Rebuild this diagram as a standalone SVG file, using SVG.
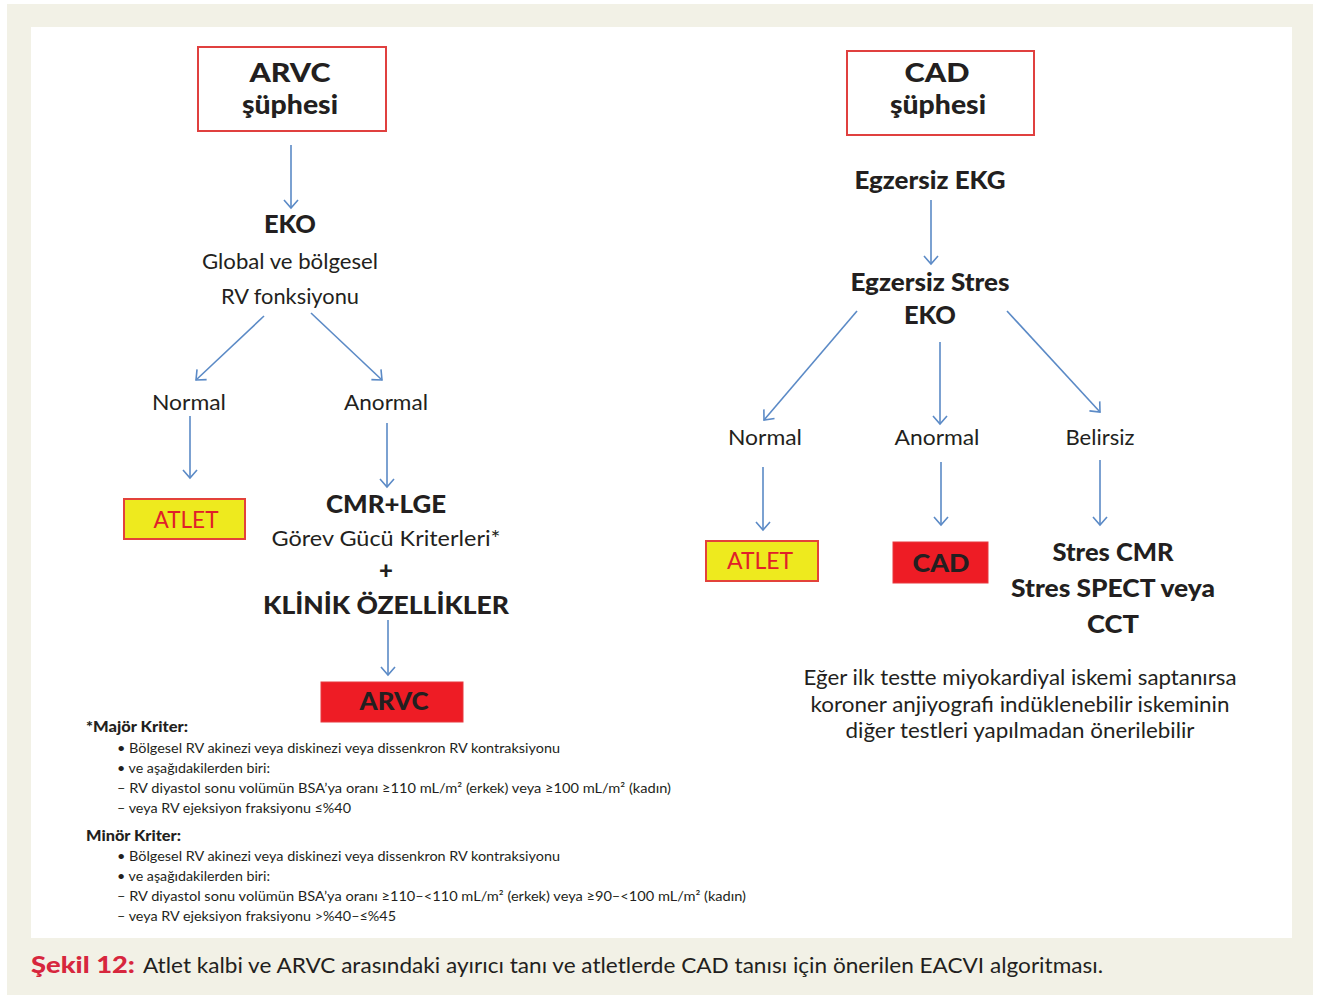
<svg xmlns="http://www.w3.org/2000/svg" width="1320" height="997" viewBox="0 0 1320 997">
<defs>
<marker id="ah" markerUnits="userSpaceOnUse" viewBox="-10 -8 12 16" refX="0" refY="0" markerWidth="12" markerHeight="16" orient="auto">
<path d="M-8,-7 L0,0 L-8,7" fill="none" stroke="#5b8ac6" stroke-width="1.6"/>
</marker>
<style>
text{font-family:Lato,"Open Sans","Liberation Sans",sans-serif;fill:#231f20}
.c{text-anchor:middle}
.h{font-size:26.5px;font-weight:900}
.m{font-size:24px;font-weight:900}
.r{font-size:22px}
.f{font-size:14px}
.fb{font-size:14.5px;font-weight:900}
.conn line{stroke:#5b8ac6;stroke-width:1.6;marker-end:url(#ah)}
.ob{fill:#fff;stroke:#e0403f;stroke-width:2}
.yb{fill:#eeea1e;stroke:#e3423a;stroke-width:2}
.rb{fill:#ee1c25;stroke:#e8383e;stroke-width:1}
.at{fill:#e0202a;font-size:23px}
</style>
</defs>
<rect x="0" y="0" width="1320" height="997" fill="#fff"/>
<rect x="7" y="4" width="1306" height="991" fill="#f2f1e6"/>
<rect x="31" y="27" width="1261" height="911" fill="#fff"/>

<g class="conn">
<line x1="291" y1="145" x2="291" y2="208"/>
<line x1="264" y1="316" x2="196" y2="380"/>
<line x1="311" y1="313" x2="382" y2="380"/>
<line x1="190" y1="416" x2="190" y2="478"/>
<line x1="387" y1="423" x2="387" y2="487"/>
<line x1="388" y1="620" x2="388" y2="675"/>
<line x1="931" y1="200" x2="931" y2="264"/>
<line x1="857" y1="311" x2="764" y2="420"/>
<line x1="940" y1="342" x2="940" y2="424"/>
<line x1="1007" y1="311" x2="1100" y2="412"/>
<line x1="763" y1="467" x2="763" y2="530"/>
<line x1="941" y1="462" x2="941" y2="525"/>
<line x1="1100" y1="460" x2="1100" y2="525"/>
</g>

<g id="arvc-suphesi">
<rect class="ob" x="198" y="47" width="188" height="84"/>
<text class="h c" x="290" y="82" textLength="81" lengthAdjust="spacingAndGlyphs">ARVC</text>
<text class="h c" x="290" y="114" textLength="96" lengthAdjust="spacingAndGlyphs">şüphesi</text>
</g>
<g id="eko">
<text class="m c" x="290" y="233" textLength="52" lengthAdjust="spacingAndGlyphs">EKO</text>
<text class="r c" x="290" y="269" textLength="176" lengthAdjust="spacingAndGlyphs">Global ve bölgesel</text>
<text class="r c" x="290" y="304" textLength="138" lengthAdjust="spacingAndGlyphs">RV fonksiyonu</text>
</g>
<g id="normal-l"><text class="r c" x="189" y="410" textLength="74" lengthAdjust="spacingAndGlyphs">Normal</text></g>
<g id="anormal-l"><text class="r c" x="386" y="410" textLength="84" lengthAdjust="spacingAndGlyphs">Anormal</text></g>
<g id="atlet-l">
<rect class="yb" x="124" y="499" width="121" height="40"/>
<text class="at c" x="186" y="528" textLength="65" lengthAdjust="spacingAndGlyphs">ATLET</text>
</g>
<g id="cmr">
<text class="m c" x="386" y="513" textLength="120" lengthAdjust="spacingAndGlyphs">CMR+LGE</text>
<text class="r c" x="386" y="546" textLength="229" lengthAdjust="spacingAndGlyphs">Görev Gücü Kriterleri*</text>
<text class="m c" x="386" y="579">+</text>
<text class="m c" x="386" y="614" textLength="246" lengthAdjust="spacingAndGlyphs">KLİNİK ÖZELLİKLER</text>
</g>
<g id="arvc">
<rect class="rb" x="321" y="682" width="142" height="40"/>
<text class="m c" x="394" y="710" textLength="69" lengthAdjust="spacingAndGlyphs">ARVC</text>
</g>

<g id="footnote">
<text class="fb" x="86" y="732" textLength="102" lengthAdjust="spacingAndGlyphs">*Majör Kriter:</text>
<text class="f" x="117" y="753" textLength="443" lengthAdjust="spacingAndGlyphs">• Bölgesel RV akinezi veya diskinezi veya dissenkron RV kontraksiyonu</text>
<text class="f" x="117" y="773" textLength="153" lengthAdjust="spacingAndGlyphs">• ve aşağıdakilerden biri:</text>
<text class="f" x="117" y="793" textLength="554" lengthAdjust="spacingAndGlyphs">– RV diyastol sonu volümün BSA’ya oranı ≥110 mL/m² (erkek) veya ≥100 mL/m² (kadın)</text>
<text class="f" x="117" y="813" textLength="234" lengthAdjust="spacingAndGlyphs">– veya RV ejeksiyon fraksiyonu ≤%40</text>
<text class="fb" x="86" y="841" textLength="95" lengthAdjust="spacingAndGlyphs">Minör Kriter:</text>
<text class="f" x="117" y="861" textLength="443" lengthAdjust="spacingAndGlyphs">• Bölgesel RV akinezi veya diskinezi veya dissenkron RV kontraksiyonu</text>
<text class="f" x="117" y="881" textLength="153" lengthAdjust="spacingAndGlyphs">• ve aşağıdakilerden biri:</text>
<text class="f" x="117" y="901" textLength="629" lengthAdjust="spacingAndGlyphs">– RV diyastol sonu volümün BSA’ya oranı ≥110–&lt;110 mL/m² (erkek) veya ≥90–&lt;100 mL/m² (kadın)</text>
<text class="f" x="117" y="921" textLength="279" lengthAdjust="spacingAndGlyphs">– veya RV ejeksiyon fraksiyonu &gt;%40–≤%45</text>
</g>

<g id="cad-suphesi">
<rect class="ob" x="847" y="51" width="187" height="84"/>
<text class="h c" x="937" y="82" textLength="65" lengthAdjust="spacingAndGlyphs">CAD</text>
<text class="h c" x="938" y="114" textLength="96" lengthAdjust="spacingAndGlyphs">şüphesi</text>
</g>
<g id="egzersiz-ekg"><text class="m c" x="930" y="189" textLength="151" lengthAdjust="spacingAndGlyphs">Egzersiz EKG</text></g>
<g id="stres-eko">
<text class="m c" x="930" y="291" textLength="159" lengthAdjust="spacingAndGlyphs">Egzersiz Stres</text>
<text class="m c" x="930" y="324" textLength="52" lengthAdjust="spacingAndGlyphs">EKO</text>
</g>
<g id="normal-r"><text class="r c" x="765" y="445" textLength="74" lengthAdjust="spacingAndGlyphs">Normal</text></g>
<g id="anormal-r"><text class="r c" x="937" y="445" textLength="85" lengthAdjust="spacingAndGlyphs">Anormal</text></g>
<g id="belirsiz"><text class="r c" x="1100" y="445" textLength="69" lengthAdjust="spacingAndGlyphs">Belirsiz</text></g>
<g id="atlet-r">
<rect class="yb" x="706" y="541" width="112" height="40"/>
<text class="at c" x="760" y="569" textLength="66" lengthAdjust="spacingAndGlyphs">ATLET</text>
</g>
<g id="cad">
<rect class="rb" x="893" y="542" width="95" height="41"/>
<text class="m c" x="941" y="572" textLength="57" lengthAdjust="spacingAndGlyphs">CAD</text>
</g>
<g id="stres-cmr">
<text class="m c" x="1113" y="561" textLength="121" lengthAdjust="spacingAndGlyphs">Stres CMR</text>
<text class="m c" x="1113" y="597" textLength="204" lengthAdjust="spacingAndGlyphs">Stres SPECT veya</text>
<text class="m c" x="1113" y="633" textLength="52" lengthAdjust="spacingAndGlyphs">CCT</text>
</g>
<g id="note">
<text class="r c" x="1020" y="685" textLength="433" lengthAdjust="spacingAndGlyphs">Eğer ilk testte miyokardiyal iskemi saptanırsa</text>
<text class="r c" x="1020" y="712" textLength="419" lengthAdjust="spacingAndGlyphs">koroner anjiyografi indüklenebilir iskeminin</text>
<text class="r c" x="1020" y="738" textLength="349" lengthAdjust="spacingAndGlyphs">diğer testleri yapılmadan önerilebilir</text>
</g>

<g id="caption">
<text x="31" y="973" textLength="104" lengthAdjust="spacingAndGlyphs" style="font-size:23px;font-weight:900;fill:#d7263d">Şekil 12:</text>
<text x="143" y="973" textLength="960" lengthAdjust="spacingAndGlyphs" style="font-size:20.5px">Atlet kalbi ve ARVC arasındaki ayırıcı tanı ve atletlerde CAD tanısı için önerilen EACVI algoritması.</text>
</g>
</svg>
